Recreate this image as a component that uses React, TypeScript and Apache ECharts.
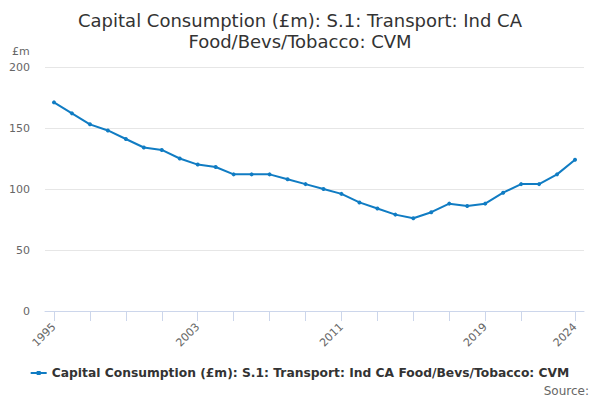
import React, { useEffect, useRef } from "react";
import * as echarts from "echarts";

const years: string[] = [
  "1995", "1996", "1997", "1998", "1999", "2000", "2001", "2002", "2003", "2004",
  "2005", "2006", "2007", "2008", "2009", "2010", "2011", "2012", "2013", "2014",
  "2015", "2016", "2017", "2018", "2019", "2020", "2021", "2022", "2023", "2024",
];
const values: number[] = [
  171, 162, 153, 148, 141, 134, 132, 125, 120, 118,
  112, 112, 112, 108, 104, 100, 96, 89, 84, 79,
  76, 81, 88, 86, 88, 97, 104, 104, 112, 124,
];
const labelYears: string[] = ["1995", "2003", "2011", "2019", "2024"];
const seriesName = "Capital Consumption (£m): S.1: Transport: Ind CA Food/Bevs/Tobacco: CVM";
const titleText = "Capital Consumption (£m): S.1: Transport: Ind CA\nFood/Bevs/Tobacco: CVM";
const FONT = "DejaVu Sans, sans-serif";

export default function App() {
  const ref = useRef<HTMLDivElement>(null);
  useEffect(() => {
    if (!ref.current) return;
    const chart = echarts.init(ref.current, undefined, { renderer: "svg" });
    const last = years.length - 1;
    chart.setOption({
      animation: false,
      title: {
        text: titleText,
        left: "center",
        top: 5,
        textStyle: { fontFamily: FONT, fontSize: 18, fontWeight: "normal", color: "#333333", lineHeight: 21 },
      },
      graphic: [
        { type: "text", left: 12, top: 46, style: { text: "£m", fontFamily: FONT, fontSize: 11, fill: "#666666" } },
        { type: "text", right: 11, top: 385, style: { text: "Source:", fontFamily: FONT, fontSize: 12, fill: "#666666" } },
      ],
      legend: {
        bottom: 16,
        left: "center",
        itemWidth: 16,
        itemHeight: 10,
        itemGap: 4,
        icon: "path://M0,4 L16,4 L16,6 L0,6 Z M6,3 L10,3 L10,7 L6,7 Z",
        textStyle: { fontFamily: FONT, fontSize: 12.3, fontWeight: "bold", color: "#333333" },
        data: [seriesName],
      },
      grid: { left: 45, right: 16, top: 67, bottom: 89, containLabel: false },
      xAxis: {
        type: "category",
        data: years,
        boundaryGap: true,
        axisLine: { lineStyle: { color: "#ccd6eb" } },
        axisTick: {
          show: true,
          length: 10,
          alignWithLabel: true,
          lineStyle: { color: "#ccd6eb", width: 1 },
          interval: (i: number) => (i % 2 === 0 && i <= 26) || i === last,
        },
        axisLabel: {
          rotate: 45,
          fontFamily: FONT,
          fontSize: 11,
          color: "#666666",
          margin: 14,
          interval: (_i: number, v: string) => labelYears.includes(v),
        },
        splitLine: { show: false },
      },
      yAxis: {
        type: "value",
        min: 0,
        max: 200,
        interval: 50,
        axisLine: { show: false },
        axisTick: { show: false },
        axisLabel: { fontFamily: FONT, fontSize: 11, color: "#666666", margin: 15 },
        splitLine: { lineStyle: { color: "#e6e6e6" } },
      },
      series: [
        {
          name: seriesName,
          type: "line",
          data: values,
          color: "#107cc3",
          symbol: "circle",
          symbolSize: 4,
          lineStyle: { width: 2, color: "#107cc3" },
          itemStyle: { color: "#107cc3" },
        },
      ],
    });
    return () => chart.dispose();
  }, []);
  return <div ref={ref} style={{ width: 600, height: 400, position: "absolute", left: 0, top: 0 }} />;
}
